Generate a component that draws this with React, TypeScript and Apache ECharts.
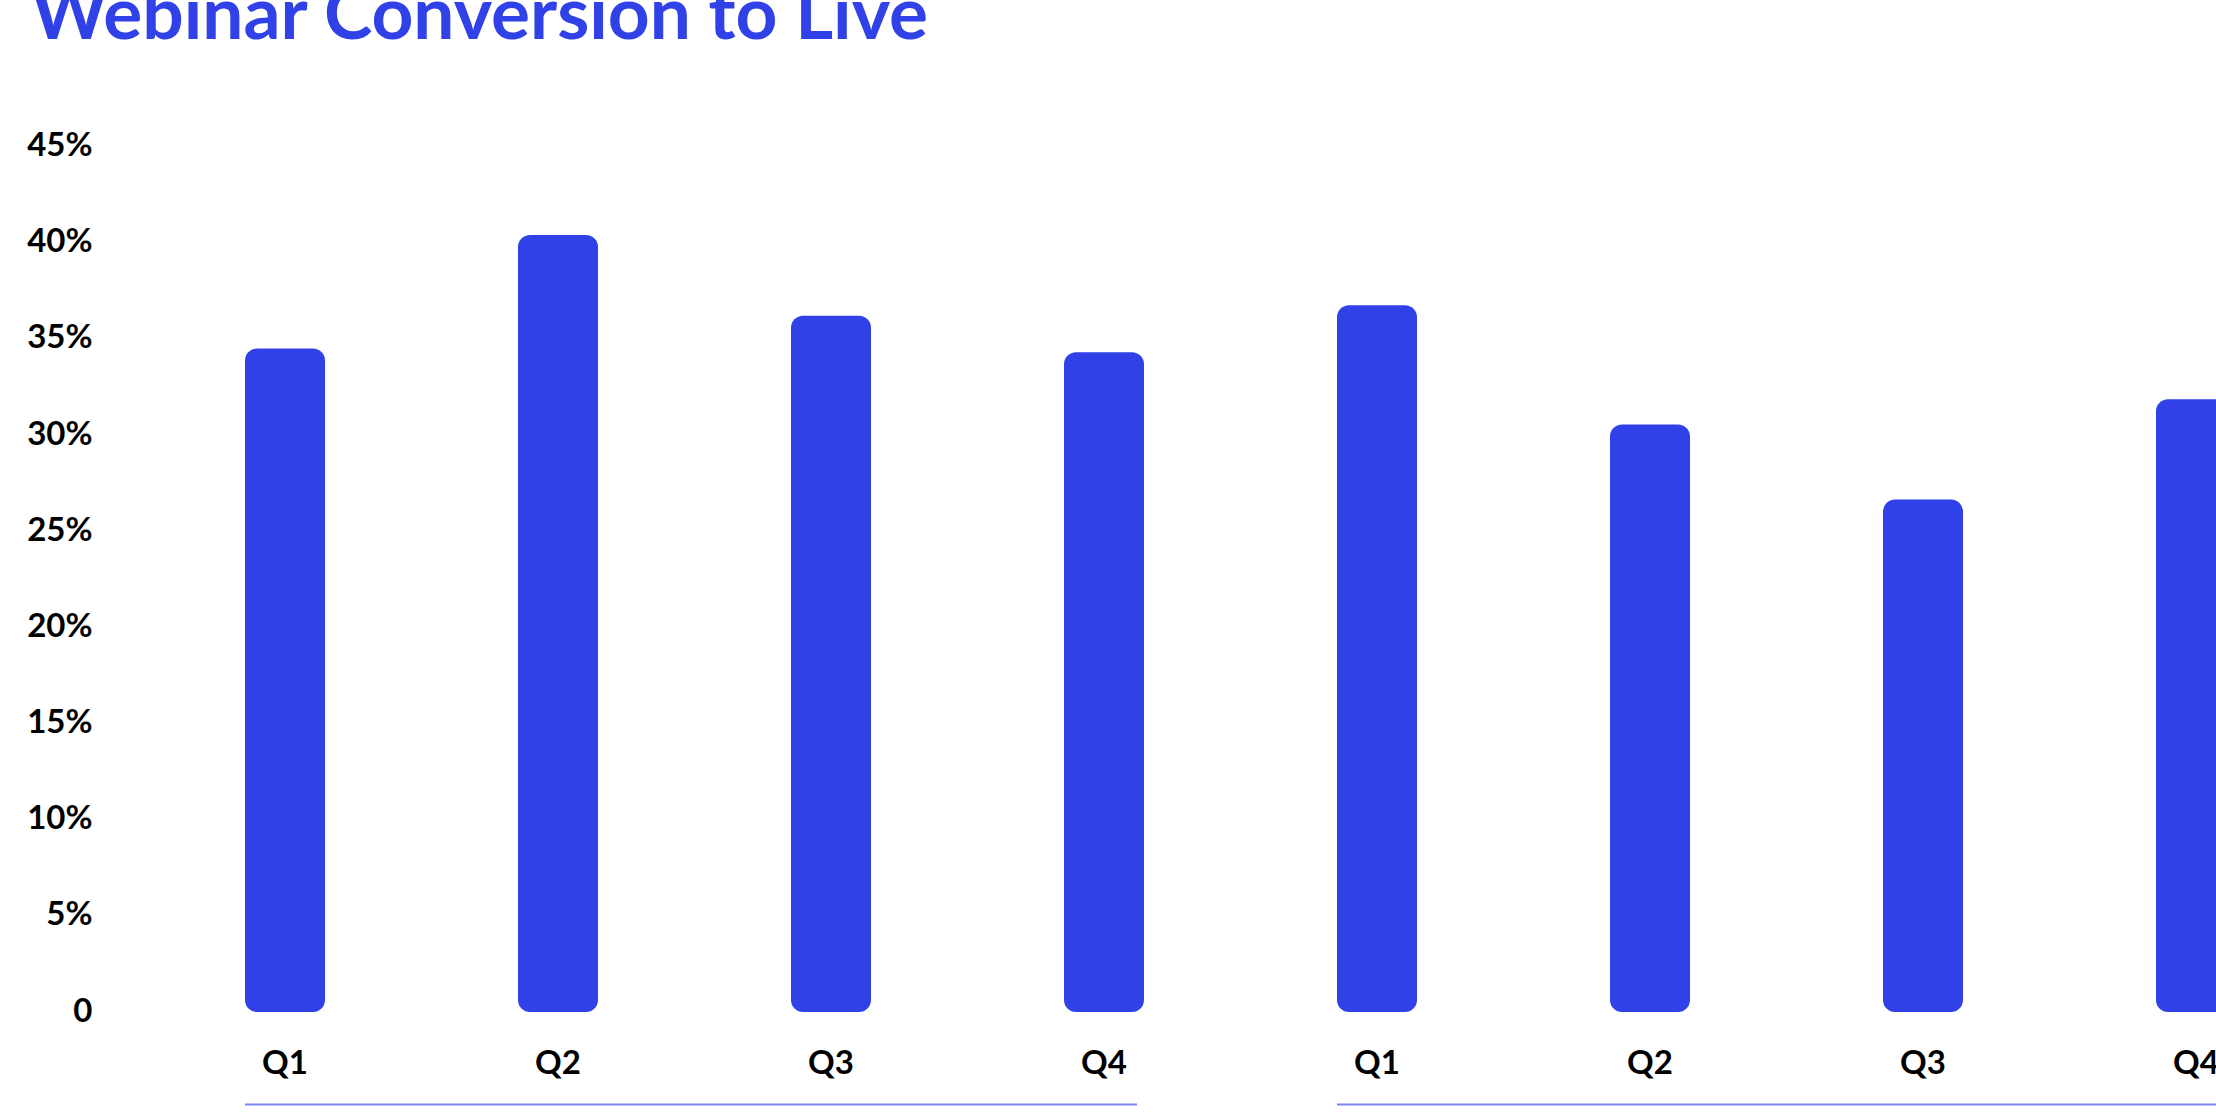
import React, { useEffect, useRef } from "react";
import * as echarts from "echarts";

const TITLE = "Webinar Conversion to Live";
const categories = ["Q1", "Q2", "Q3", "Q4", "Q1", "Q2", "Q3", "Q4"];
const conversionPct = [34.5, 40.4, 36.2, 34.3, 36.75, 30.55, 26.65, 31.86];
const yTicks = { min: 0, max: 45, interval: 5 };
const groups: [number, number][] = [
  [0, 3],
  [4, 7],
];

const BLUE = "#3141E8";
const LINE_BLUE = "#7B86F2";
const FONT = "Lato";
const BAR_W = 80;

export default function App() {
  const ref = useRef<HTMLDivElement>(null);

  useEffect(() => {
    if (!ref.current) return;
    const chart = echarts.init(ref.current, undefined, { renderer: "svg" });
    chart.setOption({
      animation: false,
      backgroundColor: "#ffffff",
      grid: { left: 148.5, right: 67.5, top: 146.5, bottom: 107, containLabel: false },
      xAxis: {
        type: "category",
        data: categories,
        axisLine: { show: false },
        axisTick: { show: false },
        axisLabel: {
          margin: 32,
          color: "#000",
          fontFamily: FONT,
          fontWeight: 700,
          fontSize: 33,
        },
      },
      yAxis: {
        type: "value",
        min: yTicks.min,
        max: yTicks.max,
        interval: yTicks.interval,
        splitLine: { show: false },
        axisLine: { show: false },
        axisTick: { show: false },
        axisLabel: {
          margin: 56,
          color: "#000",
          fontFamily: FONT,
          fontWeight: 700,
          fontSize: 33,
          verticalAlign: "bottom",
          lineHeight: 7,
          formatter: (v: number) => (v === 0 ? "0" : `${v}%`),
        },
      },
      series: [
        {
          type: "bar",
          data: conversionPct,
          barWidth: BAR_W,
          itemStyle: { color: BLUE, borderRadius: 12 },
        },
      ],
    });

    const lines = groups.map(([a, b], i) => {
      const xa = chart.convertToPixel({ xAxisIndex: 0 }, a) as number;
      const xb = chart.convertToPixel({ xAxisIndex: 0 }, b) as number;
      return {
        type: "line",
        id: "grp" + i,
        shape: { x1: xa - BAR_W / 2, y1: 1104.5, x2: xb + BAR_W / 2 - 7, y2: 1104.5 },
        style: { stroke: LINE_BLUE, lineWidth: 2 },
        silent: true,
      };
    });

    chart.setOption({
      graphic: [
        {
          type: "text",
          id: "title",
          x: 31,
          y: 11,
          style: {
            text: TITLE,
            fill: BLUE,
            fontFamily: FONT,
            fontWeight: 700,
            fontSize: 73,
            verticalAlign: "middle",
            align: "left",
          },
        },
        ...lines,
      ],
    });

    return () => chart.dispose();
  }, []);

  return (
    <div
      style={{
        position: "fixed",
        left: 0,
        top: 0,
        width: 2216,
        height: 1119,
        overflow: "hidden",
        background: "#fff",
      }}
    >
      <div ref={ref} style={{ width: 2400, height: 1119 }} />
    </div>
  );
}
